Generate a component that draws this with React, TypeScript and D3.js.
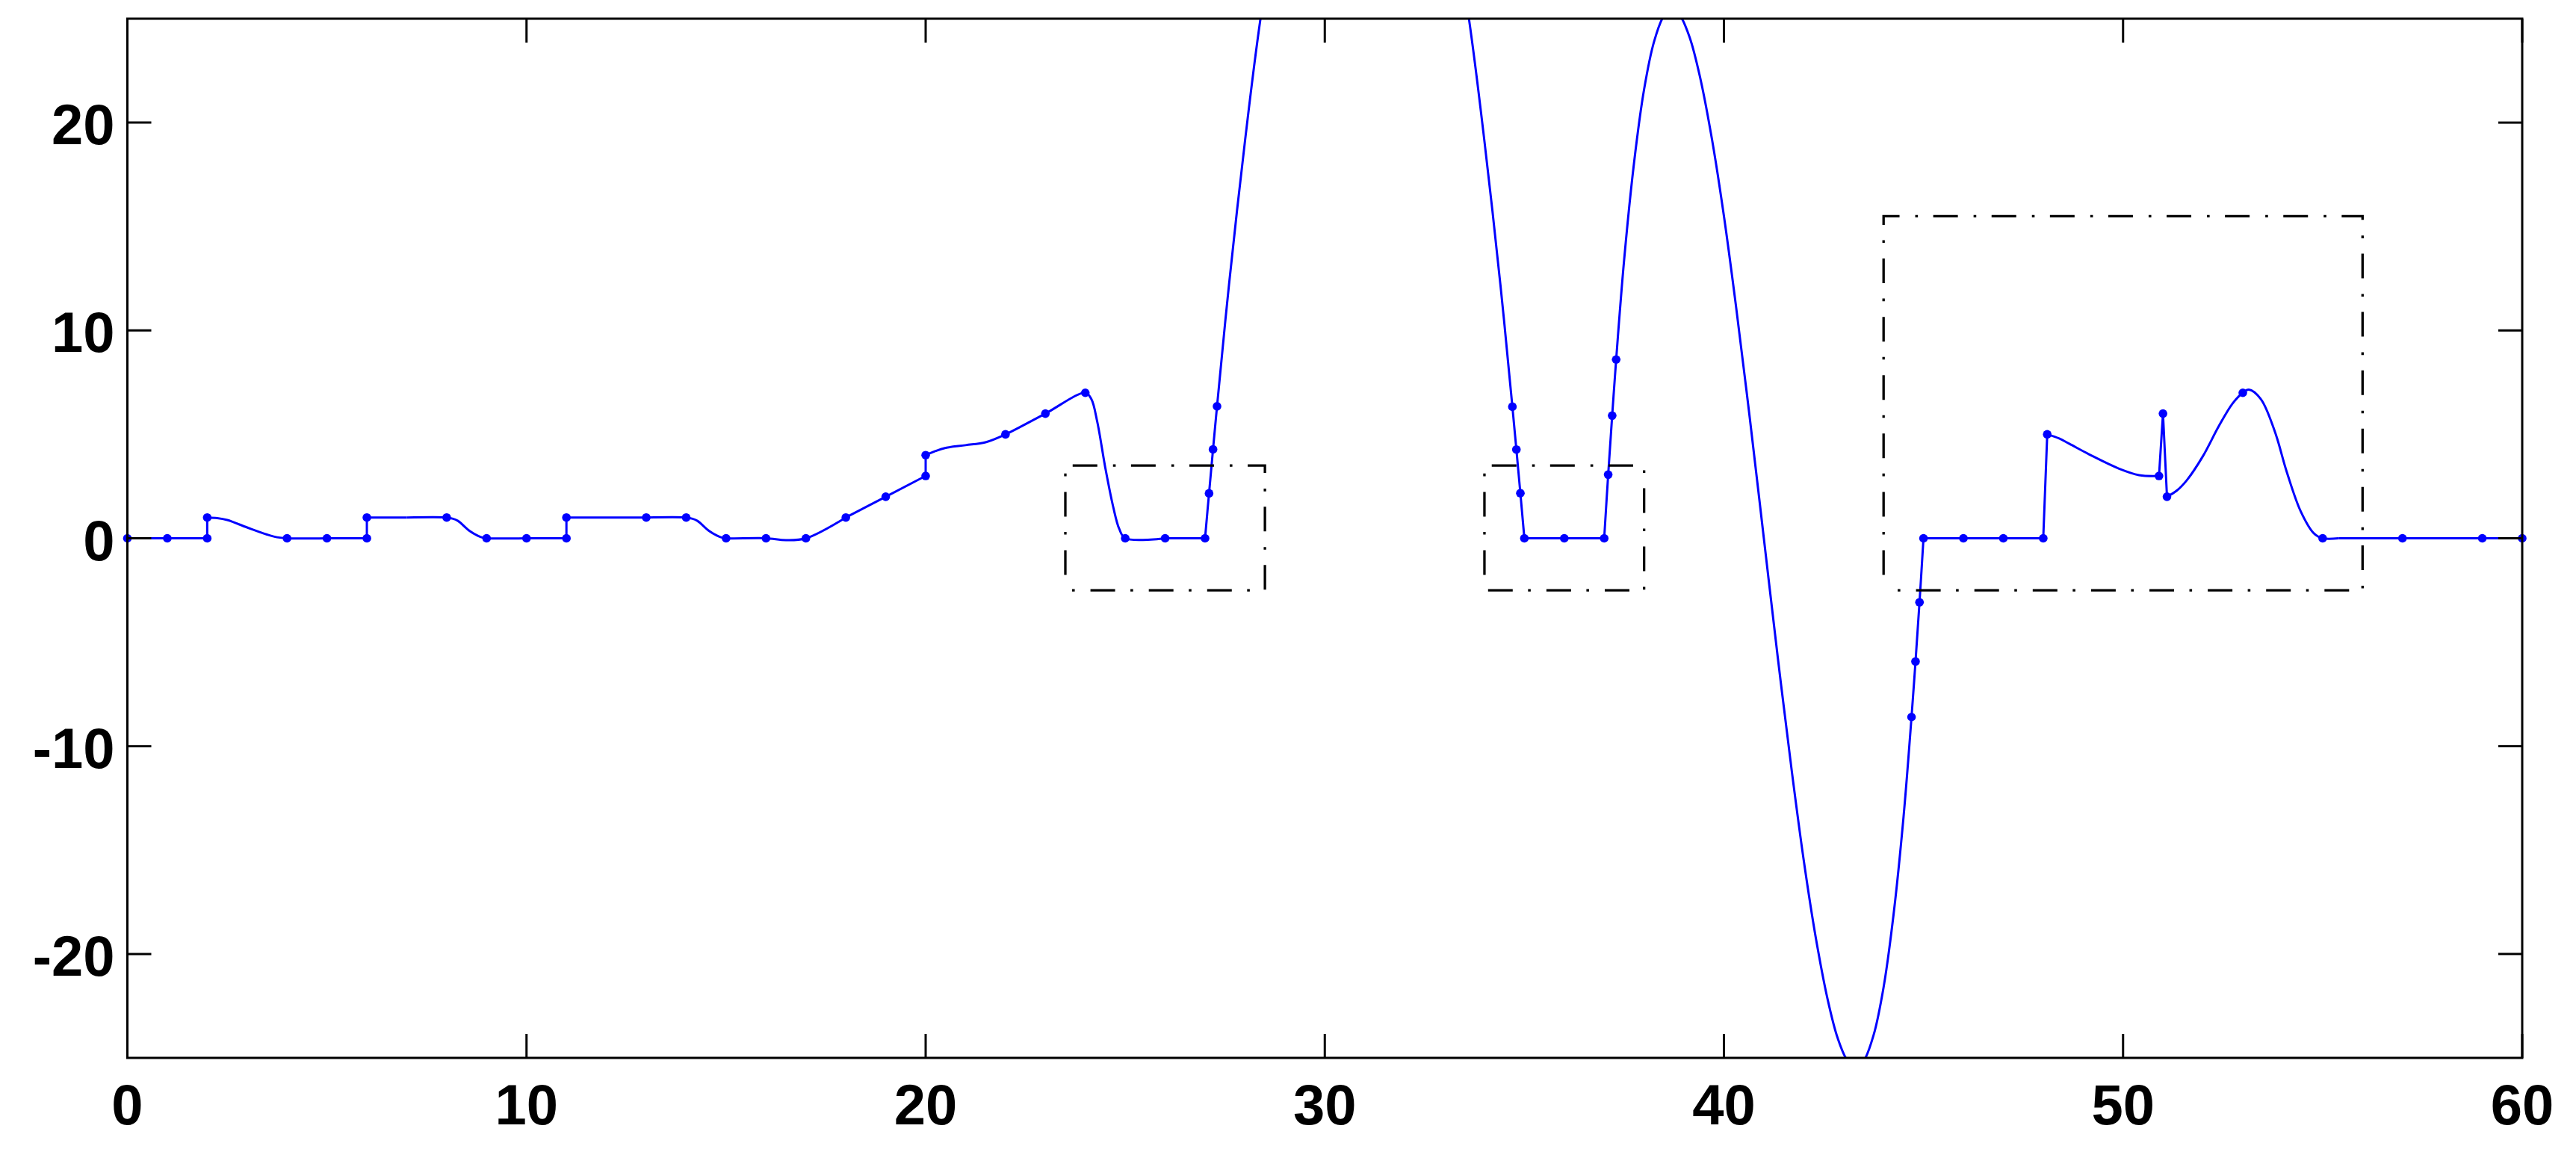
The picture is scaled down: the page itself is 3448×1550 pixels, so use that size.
import React from "react";
import * as d3 from "d3";

// ---- data ----
const xTicks = [0, 10, 20, 30, 40, 50, 60];
const yTicks = [-20, -10, 0, 10, 20];

// marker (dot) positions
const markerX = [0, 1, 2, 2, 4, 5, 6, 6, 8, 9, 10, 11, 11, 13, 14, 15, 16, 17, 18, 19, 20, 20, 22, 23, 24, 25, 26, 27, 27.1, 27.2, 27.3,
  34.7, 34.8, 34.9, 35, 36, 37, 37.1, 37.2, 37.3, 44.7, 44.8, 44.9, 45, 46, 47, 48, 48.1, 50.9, 51, 51.1, 53, 55, 57, 59, 60];
const markerY = [0, 0, 0, 1, 0, 0, 0, 1, 1, 0, 0, 0, 1, 1, 1, 0, 0, 0, 1, 2, 3, 4, 5, 6, 7, 0, 0, 0, 2.16, 4.28, 6.35,
  6.33, 4.27, 2.17, 0, 0, 0, 3.06, 5.9, 8.6, -8.6, -5.93, -3.08, 0, 0, 0, 0, 5, 3, 6, 2, 7, 0, 0, 0, 0];

// line pieces (points along the drawn curve)
const segA = [[0, 0], [1, 0], [2, 0], [2, 1]];
const segB = [[2, 1], [2.25, 0.97], [2.5, 0.88], [3, 0.52], [3.5, 0.18], [3.75, 0.05], [4, 0], [5, 0]];
const segC = [[5, 0], [6, 0], [6, 1], [7, 1]];
const segD = [[7, 1], [8, 1], [8.14, 0.95], [8.28, 0.84], [8.57, 0.36], [8.78, 0.12], [8.9, 0.03], [9, 0], [10, 0]];
const segE = [[10, 0], [11, 0], [11, 1], [13, 1]];
const segF = [[13, 1], [14, 1], [14.14, 0.95], [14.28, 0.84], [14.57, 0.36], [14.78, 0.12], [14.9, 0.03], [15, 0], [16, 0],
  [16.5, -0.09], [17, 0], [18, 1]];
const segG = [[18, 1], [19, 2], [20, 3], [20, 4]];
const segH = [[20, 4], [20.25, 4.2], [20.5, 4.35], [21, 4.48], [21.5, 4.62], [22, 5], [23, 6], [24, 7], [24.15, 6.7], [24.3, 5.6],
  [24.5, 3.4], [24.7, 1.5], [24.85, 0.45], [25, 0], [26, 0]];
const segI = [[26, 0], [27, 0]];
const segJ = [[27, 0], [27.1, 2.16], [27.2, 4.28], [27.3, 6.35], [27.6, 12.2], [28, 19.1], [28.4, 25.15], [29.2, 34.6], [31, 43.4],
  [32.8, 34.6], [33.6, 25.15], [34, 19.1], [34.4, 12.2], [34.7, 6.33], [34.8, 4.27], [34.9, 2.17], [35, 0]];
const segK = [[35, 0], [36, 0], [37, 0]];
const segL = [[37, 0], [37.1, 3.06], [37.2, 5.9], [37.3, 8.6], [37.5, 13.4], [37.75, 18.1], [38, 21.6], [38.25, 23.9], [38.5, 25.15],
  [38.7, 25.45], [38.9, 25.15], [39.15, 24.05], [39.4, 22.2], [39.7, 19.2], [40, 15.5], [40.3, 11.2], [40.65, 5.75], [41, 0],
  [41.35, -5.75], [41.7, -11.2], [42, -15.5], [42.3, -19.2], [42.6, -22.2], [42.85, -24.05], [43.1, -25.15], [43.3, -25.45],
  [43.5, -25.15], [43.75, -23.9], [44, -21.6], [44.25, -18.1], [44.5, -13.4], [44.7, -8.6], [44.8, -5.93], [44.9, -3.08], [45, 0]];
const segM = [[45, 0], [46, 0], [47, 0], [48, 0], [48.1, 5]];
const segN = [[48.1, 5], [48.4, 4.8], [48.65, 4.55], [49.24, 3.95], [49.9, 3.35], [50.4, 3.04], [50.9, 3]];
const segO = [[50.9, 3], [51, 6], [51.1, 2]];
const segP = [[51.1, 2], [51.35, 2.3], [51.6, 2.8], [52, 3.95], [52.4, 5.4], [52.75, 6.5], [53, 7], [53.15, 7.15], [53.45, 6.7],
  [53.8, 5.15], [54.1, 3.2], [54.45, 1.3], [54.78, 0.24], [55, 0], [55.4, 0]];
const segQ = [[55.4, 0], [57, 0], [59, 0], [60, 0]];

const pieces = [segA, segB, segC, segD, segE, segF, segG, segH, segI, segJ, segK, segL, segM, segN, segO, segP, segQ];
const pieceSmooth = [false, true, false, true, false, true, false, true, false, true, false, true, false, true, false, true, false];

// dash-dot boxes
const boxX0 = [23.5, 34, 44];
const boxX1 = [28.5, 38, 56];
const boxY0 = [-2.5, -2.5, -2.5];
const boxY1 = [3.5, 3.5, 15.5];

// ---- layout ----
const W = 3448;
const H = 1550;
const L = 170.5;
const R = 3376;
const T = 25;
const B = 1416;

const x = d3.scaleLinear().domain([0, 60]).range([L, R]);
const y = d3.scaleLinear().domain([-25, 25]).range([B, T]);

const FONT = "'Liberation Sans', Arial, Helvetica, sans-serif";
const BLUE = "#0000ff";

export default function App() {
  const linear = d3.line<number[]>().x((d) => x(d[0])).y((d) => y(d[1])).curve(d3.curveLinear);
  const smooth = d3.line<number[]>().x((d) => x(d[0])).y((d) => y(d[1])).curve(d3.curveCatmullRom.alpha(0.5));
  const tickLen = 32;

  return (
    <svg width={W} height={H} style={{ position: "fixed", left: 0, top: 0, background: "#fff" }}>
      <rect x={0} y={0} width={W} height={H} fill="#fff" />
      <defs>
        <clipPath id="plotClip">
          <rect x={L} y={T} width={R - L} height={B - T} />
        </clipPath>
      </defs>

      {/* curve */}
      <g clipPath="url(#plotClip)" fill="none" stroke={BLUE} strokeWidth={3} strokeLinejoin="round">
        {pieces.map((p, i) => (
          <path key={i} d={(pieceSmooth[i] ? smooth(p) : linear(p)) || ""} />
        ))}
      </g>

      {/* markers */}
      <g fill={BLUE}>
        {markerX.map((mx, i) => (
          <circle key={i} cx={x(mx)} cy={y(markerY[i])} r={5.8} />
        ))}
      </g>

      {/* dash-dot boxes */}
      <g fill="none" stroke="#000" strokeWidth={3.3} strokeDasharray="33 21 3.6 20.5" strokeDashoffset={57.6}>
        {boxX0.map((bx, i) => {
          const x0 = x(bx), x1 = x(boxX1[i]), y0 = y(boxY0[i]), y1 = y(boxY1[i]);
          return <path key={i} d={`M${x0},${y0}L${x0},${y1}L${x1},${y1}L${x1},${y0}L${x0},${y0}`} />;
        })}
      </g>

      {/* axes box */}
      <rect x={L} y={T} width={R - L} height={B - T} fill="none" stroke="#000" strokeWidth={3} />

      {/* ticks */}
      <g stroke="#000" strokeWidth={3}>
        {xTicks.map((t) => (
          <g key={"xt" + t}>
            <line x1={x(t)} x2={x(t)} y1={B} y2={B - tickLen} />
            <line x1={x(t)} x2={x(t)} y1={T} y2={T + tickLen} />
          </g>
        ))}
        {yTicks.map((t) => (
          <g key={"yt" + t}>
            <line x1={L} x2={L + tickLen} y1={y(t)} y2={y(t)} />
            <line x1={R} x2={R - tickLen} y1={y(t)} y2={y(t)} />
          </g>
        ))}
      </g>

      {/* tick labels */}
      <g fontFamily={FONT} fontWeight="bold" fontSize={76} fill="#000">
        {xTicks.map((t) => (
          <text key={"xl" + t} x={x(t)} y={1505} textAnchor="middle">
            {String(t)}
          </text>
        ))}
        {yTicks.map((t) => (
          <text key={"yl" + t} x={L - 17} y={y(t) + 29} textAnchor="end">
            {String(t)}
          </text>
        ))}
      </g>
    </svg>
  );
}
